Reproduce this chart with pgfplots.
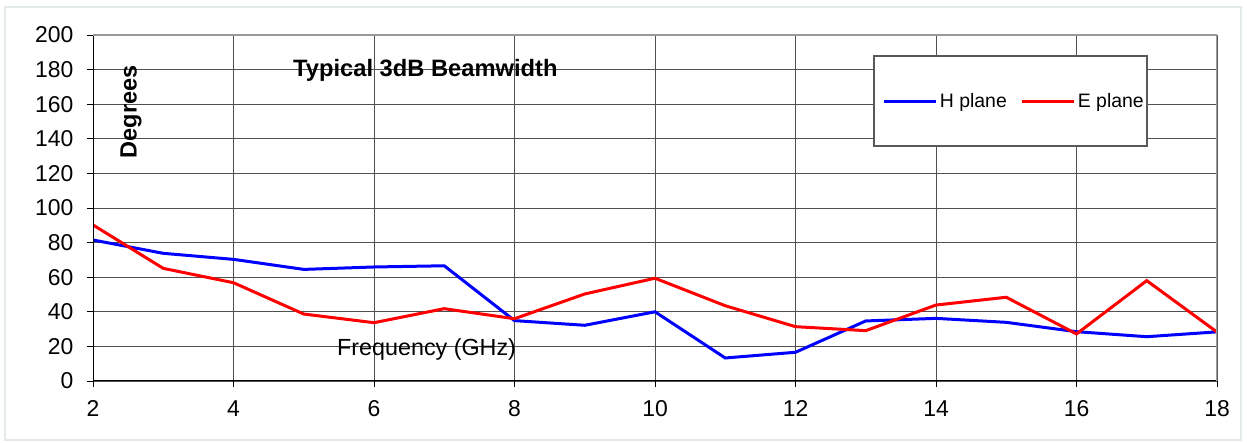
\documentclass[border=0pt]{standalone}
\usepackage{fontspec}
\setmainfont{Liberation Sans}
\usepackage{pgfplots}
\pgfplotsset{compat=1.18}

\definecolor{hblue}{RGB}{0,0,255}
\definecolor{ered}{RGB}{255,0,0}
\definecolor{framec}{RGB}{228,234,230}
\definecolor{gridc}{RGB}{80,80,80}

\begin{document}
\begin{tikzpicture}[x=1bp,y=1bp]
\useasboundingbox (0,0) rectangle (1247,443);
\draw[framec, line width=2bp] (5,3) rectangle (1241,436);
\begin{axis}[
  at={(93bp,62bp)}, anchor=south west,
  width=1124bp, height=346bp, scale only axis,
  xmin=2, xmax=18, ymin=0, ymax=200,
  xtick={2,4,...,18}, ytick={0,20,...,200},
  grid=major,
  major grid style={gridc, line width=0.9bp},
  axis line style={draw opacity=0},
  tick align=outside,
  xtick pos=bottom, ytick pos=left,
  major tick length=6bp,
  tick style={draw=black, draw opacity=1, line width=0.9bp},
  ticklabel style={font=\fontsize{23}{27}\selectfont},
  yticklabel style={xshift=-10bp},
  xticklabel style={yshift=-10bp},
  /pgf/number format/assume math mode=true,
  legend columns=2,
  legend style={draw=none, fill=none,
    at={(0.8197,0.8092)}, anchor=center,
    font=\fontsize{19.5}{23}\selectfont,
    /tikz/every even column/.append style={column sep=11bp},
    nodes={inner xsep=2.5bp, inner ysep=0bp}},
  legend image code/.code={\draw[#1] (0bp,0bp) -- (52bp,0bp);},
]
\addplot[hblue, line width=3bp] coordinates {
(2,81.5)(3,73.8)(4,70.3)(5,64.5)(6,65.9)(7,66.6)(8,34.9)(9,32.2)(10,40)
(11,13.3)(12,16.6)(13,34.7)(14,36.2)(15,33.9)(16,28.5)(17,25.6)(18,28.4)};
\addlegendentry{H plane}
\addplot[ered, line width=3bp] coordinates {
(2,90.2)(3,65.1)(4,56.8)(5,38.7)(6,33.7)(7,41.8)(8,36)(9,50.3)(10,59.4)
(11,43.5)(12,31.4)(13,29.1)(14,43.9)(15,48.4)(16,27.2)(17,58)(18,28.3)};
\addlegendentry{E plane}
\filldraw[fill=white, draw=gray!70!black, line width=1.2bp] (axis cs:13.117,135.84) rectangle (axis cs:17.004,187.86);
\draw[black, line width=2bp] (rel axis cs:0,0) -- (rel axis cs:0,1);
\draw[black, line width=2bp] (rel axis cs:0,0) -- (rel axis cs:1,0);
\draw[gray!80, line width=2bp] (rel axis cs:0,1) -- (rel axis cs:1,1);
\draw[gray!75, line width=3bp] (rel axis cs:1,0) -- (rel axis cs:1,1);
\end{axis}
\node[anchor=base west, inner sep=0pt, font=\fontsize{23.8}{28}\selectfont\bfseries] at (293,366.3) {Typical 3dB Beamwidth};
\node[anchor=base west, inner sep=0pt, font=\fontsize{23.4}{27}\selectfont] at (337,87) {Frequency (GHz)};
\node[anchor=center, inner sep=0pt, rotate=90, font=\fontsize{23.6}{28}\selectfont\bfseries] at (131,331) {Degrees};
\end{tikzpicture}
\end{document}
